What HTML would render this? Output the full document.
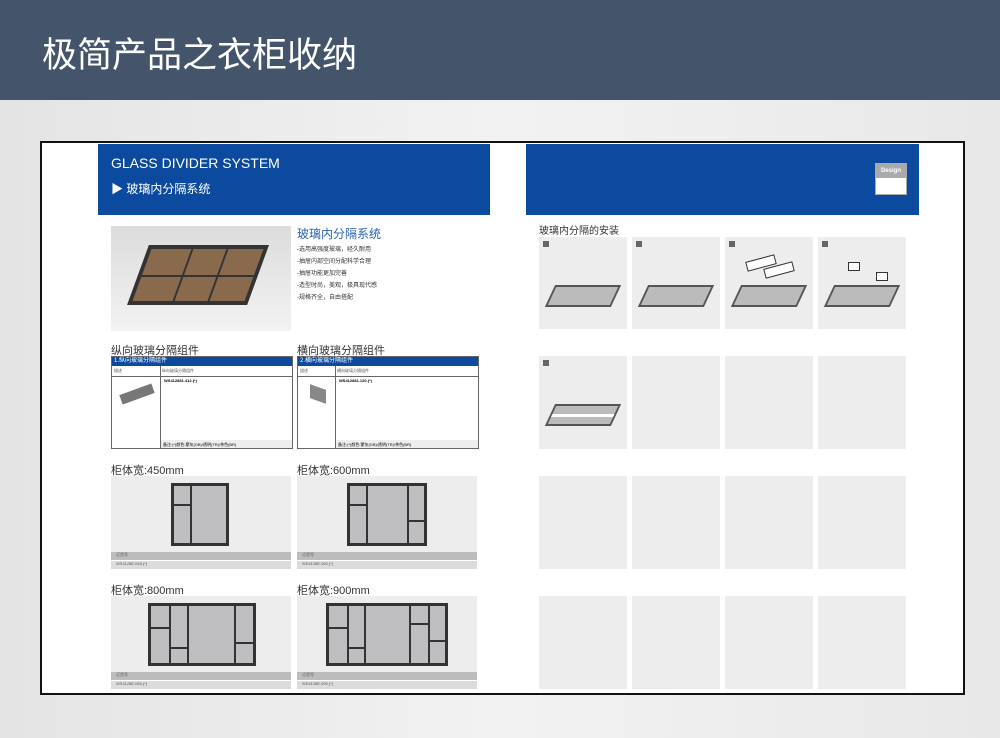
<!DOCTYPE html>
<html><head><meta charset="utf-8"><style>
*{margin:0;padding:0;box-sizing:border-box}
body{width:1000px;height:738px;position:relative;overflow:hidden;font-family:"Liberation Sans","Noto Sans CJK SC",sans-serif;background:linear-gradient(90deg,#e4e4e4,#f2f2f2 50%,#e8e8e8)}
.a{position:absolute}
.hd{left:0;top:0;width:1000px;height:100px;background:#44546b;color:#fff;font-size:35px;padding:27px 0 0 42px}
.doc{left:40px;top:141px;width:925px;height:554px;background:#fff;border:2px solid #111}
.blue{background:#0b4a9e}
.g{background:#ededee}
.t{font-size:7px;color:#333}
.tab{border:1px solid #666;background:#fff}
.tab .h{height:9px;background:#0b4a9e;color:#fff;font-size:6px;padding-left:2px;line-height:9px}
.cap{font-size:11px;color:#333}
.strip{background:#bcbcbc;height:8px;font-size:4px;color:#555;padding-left:5px}
.strip2{background:#dcdcdc;height:8px;font-size:4px;color:#555;padding-left:5px;margin-top:1px}
.fr{border:3px solid #333;background:#bfbfc2}
.v{position:absolute;top:0;bottom:0;width:2px;background:#333}
.hh{position:absolute;height:2px;background:#333}
.num{width:6px;height:6px;background:#666}
</style></head><body>
<div class="a hd">极简产品之衣柜收纳</div>
<div class="a doc"></div>
<div class="a blue" style="left:98px;top:144px;width:392px;height:71px"></div>
<div class="a" style="left:111px;top:155px;color:#fff;font-size:14px">GLASS DIVIDER SYSTEM</div>
<div class="a" style="left:111px;top:180px;color:#fff;font-size:12px">▶ 玻璃内分隔系统</div>
<div class="a blue" style="left:526px;top:144px;width:393px;height:71px"></div>
<div class="a" style="left:875px;top:163px;width:32px;height:32px;background:#fff;border:1px solid #aaa"><div style="background:#aaa;height:14px;color:#fff;font-size:6px;text-align:center;line-height:14px;font-weight:bold">Design</div></div>

<div class="a" style="left:111px;top:226px;width:180px;height:105px;background:linear-gradient(#dcdcdc,#f2f2f2)"></div>
<div class="a" style="left:138px;top:245px;width:120px;height:60px;background:#8a6a4c;transform:skewX(-20deg);border:4px solid #333"><div class="v" style="left:40px"></div><div class="v" style="left:75px"></div><div class="hh" style="left:0;right:0;top:26px"></div></div>
<div class="a" style="left:297px;top:225px;color:#2b63b0;font-size:12px">玻璃内分隔系统</div>
<div class="a t" style="left:297px;top:244px;line-height:12px;font-size:6px">-选用高强度玻璃，经久耐用<br>-抽屉内部空间分配科学合理<br>-抽屉功能更加完善<br>-造型时尚，美观，极具现代感<br>-规格齐全，自由搭配</div>

<div class="a cap" style="left:111px;top:342px">纵向玻璃分隔组件</div>
<div class="a cap" style="left:297px;top:342px">横向玻璃分隔组件</div>
<div class="a tab" style="left:111px;top:356px;width:182px;height:93px"><div class="h">1.纵向玻璃分隔组件</div><div style="position:absolute;left:2px;top:11px;font-size:4px;color:#555">描述</div><div style="position:absolute;left:50px;top:11px;font-size:4px;color:#555">纵向玻璃分隔组件</div><div style="position:absolute;left:48px;top:9px;bottom:0;border-left:1px solid #666"></div><div style="position:absolute;left:0;right:0;top:19px;border-top:1px solid #666"></div><div style="position:absolute;left:52px;top:21px;font-size:4px;font-weight:bold">WS412881.412.(*)</div><div style="position:absolute;left:49px;right:0;bottom:0;height:8px;background:#eee;font-size:4px;padding:2px">备注:(*)颜色:蒙灰(GB)/透明(TR)/茶色(BR)</div><div style="position:absolute;left:8px;top:32px;width:34px;height:10px;background:#777;transform:rotate(-20deg)"></div></div>
<div class="a tab" style="left:297px;top:356px;width:182px;height:93px"><div class="h">2.横向玻璃分隔组件</div><div style="position:absolute;left:2px;top:11px;font-size:4px;color:#555">描述</div><div style="position:absolute;left:39px;top:11px;font-size:4px;color:#555">横向玻璃分隔组件</div><div style="position:absolute;left:37px;top:9px;bottom:0;border-left:1px solid #666"></div><div style="position:absolute;left:0;right:0;top:19px;border-top:1px solid #666"></div><div style="position:absolute;left:41px;top:21px;font-size:4px;font-weight:bold">WS412881.120.(*)</div><div style="position:absolute;left:38px;right:0;bottom:0;height:8px;background:#eee;font-size:4px;padding:2px">备注:(*)颜色:蒙灰(GB)/透明(TR)/茶色(BR)</div><div style="position:absolute;left:12px;top:30px;width:16px;height:14px;background:#888;transform:skewY(20deg)"></div></div>

<div class="a cap" style="left:111px;top:462px">柜体宽:450mm</div>
<div class="a cap" style="left:297px;top:462px">柜体宽:600mm</div>
<div class="a cap" style="left:111px;top:582px">柜体宽:800mm</div>
<div class="a cap" style="left:297px;top:582px">柜体宽:900mm</div>
<div class="a g" style="left:111px;top:476px;width:180px;height:76px"><div class="a fr" style="left:60px;top:7px;width:58px;height:63px"><div class="v" style="left:16px"></div><div class="hh" style="left:0;width:18px;top:18px"></div></div></div>
<div class="a" style="left:111px;top:552px;width:180px"><div class="strip">订货号</div><div class="strip2">WS4128E.045.(*)</div></div>
<div class="a g" style="left:297px;top:476px;width:180px;height:76px"><div class="a fr" style="left:50px;top:7px;width:80px;height:63px"><div class="v" style="left:16px"></div><div class="v" style="left:57px"></div><div class="hh" style="left:0;width:18px;top:18px"></div><div class="hh" style="left:57px;right:0;top:34px"></div></div></div>
<div class="a" style="left:297px;top:552px;width:180px"><div class="strip">订货号</div><div class="strip2">WS4128E.060.(*)</div></div>
<div class="a g" style="left:111px;top:596px;width:180px;height:76px"><div class="a fr" style="left:37px;top:7px;width:108px;height:63px"><div class="v" style="left:18px"></div><div class="v" style="left:36px"></div><div class="v" style="left:83px"></div><div class="hh" style="left:0;width:20px;top:21px"></div><div class="hh" style="left:18px;width:20px;top:41px"></div><div class="hh" style="left:83px;right:0;top:36px"></div></div></div>
<div class="a" style="left:111px;top:672px;width:180px"><div class="strip">订货号</div><div class="strip2">WS4128E.080.(*)</div></div>
<div class="a g" style="left:297px;top:596px;width:180px;height:76px"><div class="a fr" style="left:29px;top:7px;width:122px;height:63px"><div class="v" style="left:18px"></div><div class="v" style="left:35px"></div><div class="v" style="left:80px"></div><div class="v" style="left:99px"></div><div class="hh" style="left:0;width:20px;top:21px"></div><div class="hh" style="left:18px;width:19px;top:41px"></div><div class="hh" style="left:80px;width:20px;top:17px"></div><div class="hh" style="left:99px;right:0;top:34px"></div></div></div>
<div class="a" style="left:297px;top:672px;width:180px"><div class="strip">订货号</div><div class="strip2">WS4128E.090.(*)</div></div>

<div class="a" style="left:539px;top:222px;font-size:10px;color:#333">玻璃内分隔的安装</div>
<div class="a g" style="left:539px;top:237px;width:88px;height:92px"></div>
<div class="a g" style="left:632px;top:237px;width:88px;height:92px"></div>
<div class="a g" style="left:725px;top:237px;width:88px;height:92px"></div>
<div class="a g" style="left:818px;top:237px;width:88px;height:92px"></div>
<div class="a g" style="left:539px;top:356px;width:88px;height:93px"></div>
<div class="a g" style="left:632px;top:356px;width:88px;height:93px"></div>
<div class="a g" style="left:725px;top:356px;width:88px;height:93px"></div>
<div class="a g" style="left:818px;top:356px;width:88px;height:93px"></div>
<div class="a g" style="left:539px;top:476px;width:88px;height:93px"></div>
<div class="a g" style="left:632px;top:476px;width:88px;height:93px"></div>
<div class="a g" style="left:725px;top:476px;width:88px;height:93px"></div>
<div class="a g" style="left:818px;top:476px;width:88px;height:93px"></div>
<div class="a g" style="left:539px;top:596px;width:88px;height:93px"></div>
<div class="a g" style="left:632px;top:596px;width:88px;height:93px"></div>
<div class="a g" style="left:725px;top:596px;width:88px;height:93px"></div>
<div class="a g" style="left:818px;top:596px;width:88px;height:93px"></div>
<div class="a num" style="left:543px;top:241px"></div><div class="a num" style="left:636px;top:241px"></div><div class="a num" style="left:729px;top:241px"></div><div class="a num" style="left:822px;top:241px"></div><div class="a num" style="left:543px;top:360px"></div>
<div class="a" style="left:550px;top:285px;width:66px;height:22px;border:2px solid #555;background:#bbb;transform:skewX(-25deg)"></div>
<div class="a" style="left:643px;top:285px;width:66px;height:22px;border:2px solid #555;background:#bbb;transform:skewX(-25deg)"></div>
<div class="a" style="left:736px;top:285px;width:66px;height:22px;border:2px solid #555;background:#bbb;transform:skewX(-25deg)"></div>
<div class="a" style="left:829px;top:285px;width:66px;height:22px;border:2px solid #555;background:#bbb;transform:skewX(-25deg)"></div>
<div class="a" style="left:550px;top:404px;width:66px;height:22px;border:2px solid #555;background:#bbb;transform:skewX(-25deg)"><div class="hh" style="left:0;right:0;top:8px;background:#fff;height:3px"></div></div>
<div class="a" style="left:746px;top:258px;width:30px;height:10px;border:1px solid #333;background:#fff;transform:rotate(-15deg)"></div>
<div class="a" style="left:764px;top:265px;width:30px;height:10px;border:1px solid #333;background:#fff;transform:rotate(-15deg)"></div>
<div class="a" style="left:848px;top:262px;width:12px;height:9px;border:1px solid #333;background:#fff"></div>
<div class="a" style="left:876px;top:272px;width:12px;height:9px;border:1px solid #333;background:#fff"></div>
</body></html>
